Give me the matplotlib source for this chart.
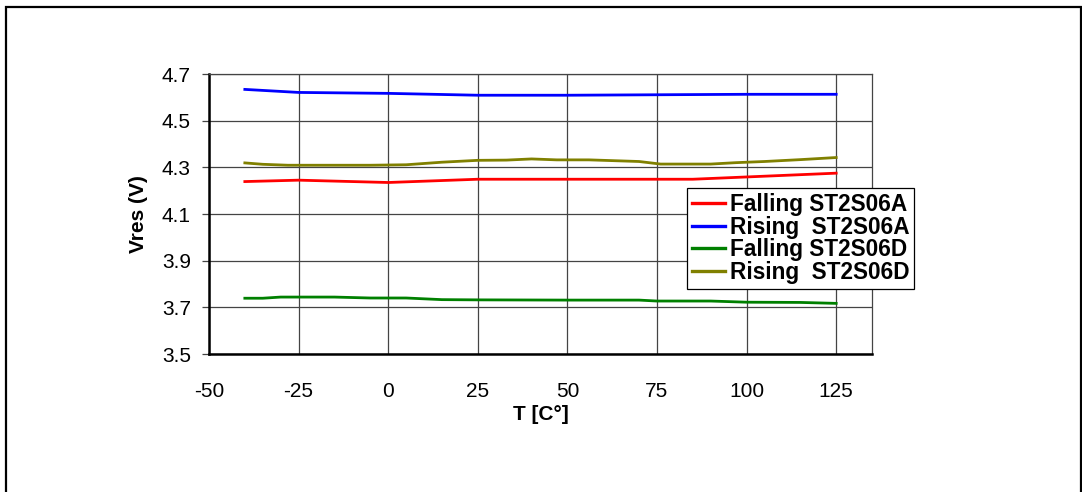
import matplotlib
matplotlib.use("Agg")
import matplotlib.pyplot as plt
from matplotlib.patches import Rectangle

# data
temp_fall_a = [-40, -25, 0, 25, 50, 75, 85, 105, 125]
fall_a = [4.239, 4.245, 4.235, 4.249, 4.249, 4.249, 4.249, 4.262, 4.275]

temp_rise_a = [-40, -25, 0, 25, 50, 75, 100, 125]
rise_a = [4.634, 4.621, 4.617, 4.609, 4.609, 4.611, 4.613, 4.613]

temp_fall_d = [-40, -35, -30, -15, -5, 5, 15, 25, 50, 70, 75, 90, 100, 115, 125]
fall_d = [3.739, 3.739, 3.744, 3.744, 3.740, 3.740, 3.733, 3.732, 3.731, 3.731,
          3.727, 3.727, 3.722, 3.721, 3.717]

temp_rise_d = [-40, -35, -28, -5, 5, 15, 25, 33, 40, 47, 56, 70, 76, 90, 97, 105, 115, 125]
rise_d = [4.319, 4.313, 4.309, 4.309, 4.311, 4.322, 4.330, 4.331, 4.336, 4.332,
          4.332, 4.325, 4.314, 4.314, 4.320, 4.325, 4.333, 4.342]

x_ticks = [-50, -25, 0, 25, 50, 75, 100, 125]
y_ticks = [3.5, 3.7, 3.9, 4.1, 4.3, 4.5, 4.7]

plt.rcParams['font.family'] = ['Liberation Sans', 'DejaVu Sans']
plt.rcParams['axes.unicode_minus'] = False

W, H = 1082, 492
fig = plt.figure(figsize=(W / 100, H / 100), dpi=100)
ax = fig.add_axes([209 / W, 1 - 354 / H, (872 - 209) / W, (354 - 74) / H])

ax.plot(temp_fall_a, fall_a, color='#FF0000', lw=2.0, label='Falling ST2S06A')
ax.plot(temp_rise_a, rise_a, color='#0000FF', lw=2.0, label='Rising  ST2S06A')
ax.plot(temp_fall_d, fall_d, color='#008000', lw=2.0, label='Falling ST2S06D')
ax.plot(temp_rise_d, rise_d, color='#808000', lw=2.0, label='Rising  ST2S06D')

ax.set_xlim(-50, 135)
ax.set_ylim(3.5, 4.7)
ax.set_xticks(x_ticks)
ax.set_xticklabels([str(v) for v in x_ticks])
ax.set_yticks(y_ticks)
ax.set_yticklabels([f"{v:.1f}" for v in y_ticks])
ax.grid(True, color='#444444', lw=0.9)
ax.set_axisbelow(True)

ax.tick_params(axis='x', length=0, pad=20, labelsize=15)
ax.tick_params(axis='y', length=5, width=0.9, color='#444444', pad=8, labelsize=15)

for side in ['top', 'right']:
    ax.spines[side].set_color('#444444')
    ax.spines[side].set_linewidth(0.9)
for side in ['left', 'bottom']:
    ax.spines[side].set_color('black')
    ax.spines[side].set_linewidth(1.8)

ax.set_xlabel("T [C°]", fontsize=15, fontweight='bold', labelpad=3)
ax.set_ylabel("Vres (V)", fontsize=15, fontweight='bold', labelpad=10)

leg = ax.legend(loc='upper left', bbox_to_anchor=(687 / W, 1 - 188 / H),
                bbox_transform=fig.transFigure, borderaxespad=0,
                prop={'size': 16.3, 'weight': 'bold'}, frameon=True, fancybox=False,
                edgecolor='black', framealpha=1, labelspacing=-0.02,
                handlelength=1.45, handletextpad=0.22, borderpad=0.22)
leg.get_frame().set_linewidth(0.9)
for line in leg.get_lines():
    line.set_linewidth(2.4)

# outer frame of the figure box
fig.add_artist(Rectangle((6 / W, -0.1), (W - 7) / W, 1.1 - 7 / H,
                         transform=fig.transFigure, fill=False,
                         edgecolor='black', lw=1.6))

fig.savefig("out.png", dpi=100)
